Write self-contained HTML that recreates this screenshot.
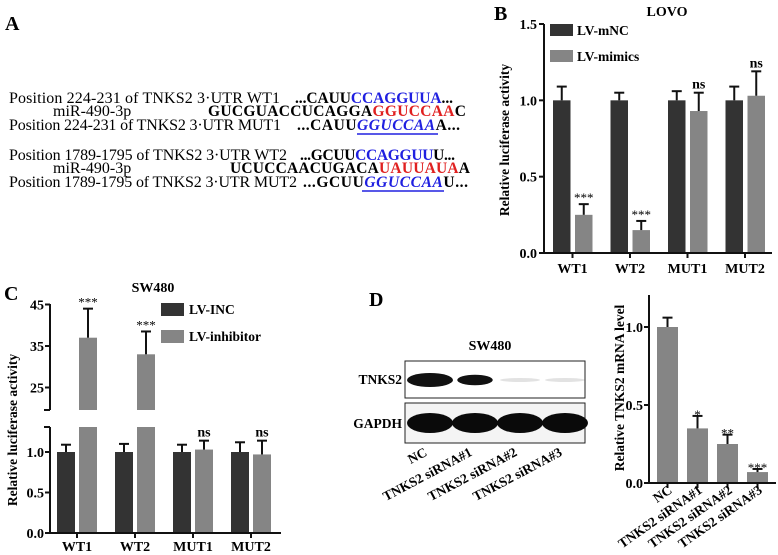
<!DOCTYPE html>
<html><head><meta charset="utf-8"><style>
body{margin:0;background:#fff}
svg{display:block;font-family:"Liberation Serif",serif}
.b{font-weight:bold}
</style></head><body>
<svg id="fig" width="778" height="555" viewBox="0 0 778 555">
<g font-size="16">
<text x="5" y="30" font-size="20" class="b">A</text>
<text x="9" y="103" textLength="271">Position 224-231 of TNKS2 3·UTR WT1</text>
<text x="53" y="116">miR-490-3p</text>
<text x="9" y="130" textLength="272">Position 224-231 of TNKS2 3·UTR MUT1</text>
<text x="295" y="103" class="b" font-size="15.5" textLength="158">...CAUU<tspan fill="#2020e0">CCAGGUUA</tspan>...</text>
<text x="208" y="116" class="b" font-size="15.5" textLength="258">GUCGUACCUCAGGA<tspan fill="#e02020">GGUCCAA</tspan>C</text>
<text x="297" y="130" class="b" font-size="15.5" textLength="163">...CAUU<tspan fill="#2020e0" font-style="italic">GGUCCAA</tspan>A...</text>
<line x1="357" y1="134" x2="438" y2="134" stroke="#2020e0" stroke-width="1.5"/>
<text x="9" y="160" textLength="278">Position 1789-1795 of TNKS2 3·UTR WT2</text>
<text x="53" y="173">miR-490-3p</text>
<text x="9" y="187" textLength="288">Position 1789-1795 of TNKS2 3·UTR MUT2</text>
<text x="300" y="160" class="b" font-size="15.5" textLength="155">...GCUU<tspan fill="#2020e0">CCAGGUU</tspan>U...</text>
<text x="230" y="173" class="b" font-size="15.5" textLength="240">UCUCCAACUGACA<tspan fill="#e02020">UAUUAUA</tspan>A</text>
<text x="303" y="187" class="b" font-size="15.5" textLength="165">...GCUU<tspan fill="#2020e0" font-style="italic">GGUCCAA</tspan>U...</text>
<line x1="362" y1="191" x2="444" y2="191" stroke="#2020e0" stroke-width="1.5"/>
</g>
<g id="pb"></g>
<g id="pc"></g>
<g id="pd"></g>
</svg>
<script>
const NS='http://www.w3.org/2000/svg';
const DARK='#333333', GRAY='#858585';
// Panel B data
const bCats=['WT1','WT2','MUT1','MUT2'];
const bNC=[1,1,1,1];
const bNCerr=[0.09,0.05,0.06,0.09];
const bMim=[0.25,0.15,0.93,1.03];
const bMimErr=[0.07,0.06,0.12,0.16];
const bSig=['***','***','ns','ns'];
const bTicks=[0,0.5,1.0,1.5];
// Panel C data
const cCats=['WT1','WT2','MUT1','MUT2'];
const cINC=[1,1,1,1];
const cINCerr=[0.09,0.1,0.09,0.12];
const cInh=[37,33,1.03,0.97];
const cInhErr=[7,5.5,0.11,0.17];
const cSig=['***','***','ns','ns'];
const cTicksLow=[0,0.5,1.0];
const cTicksHigh=[25,35,45];
// Panel D data
const dCats=['NC','TNKS2 siRNA#1','TNKS2 siRNA#2','TNKS2 siRNA#3'];
const dVals=[1.0,0.35,0.25,0.07];
const dErr=[0.06,0.08,0.06,0.02];
const dSig=['','*','**','***'];
const dTicks=[0,0.5,1.0];
const dBand1=[1,0.75,0.08,0.08];
const dBand2=[1,1,1,1];

function el(tag,attrs,parent,txt){const e=document.createElementNS(NS,tag);for(const k in attrs)e.setAttribute(k,attrs[k]);if(txt!==undefined)e.textContent=txt;parent.appendChild(e);return e;}
function errbar(g,x,y1,y2){
  const l=el('line',{x1:x,y1:y1,x2:x,y2:y2,stroke:'#111','stroke-width':2},g);
  
  
  el('line',{x1:x-5,y1:y2,x2:x+5,y2:y2,stroke:'#111','stroke-width':2},g);
}
function txt(g,x,y,s,size,anchor,extra){const t=el('text',Object.assign({x:x,y:y,'font-size':size,'font-weight':'bold','text-anchor':anchor||'middle'},extra||{}),g,s);return t;}

// ---- Panel B ----
(function(){
const g=document.getElementById('pb');
const X0=544,X1=772,Y0=253,Y1=24;
const y=v=>Y0-(v/1.5)*(Y0-Y1);
const gx=i=>553+i*57.5;
txt(g,494,20,'B',20,'start');
txt(g,667,16,'LOVO',14);
const yl=txt(g,0,0,'Relative luciferase activity',13.5,'middle',{transform:'translate(509,140) rotate(-90)'});


bCats.forEach((c,i)=>{
  const x=gx(i);
  const r1=el('rect',{x:x,y:y(bNC[i]),width:17.5,height:Y0-y(bNC[i]),fill:DARK},g);
  
  
  errbar(g,x+8.75,y(bNC[i]),y(bNC[i]+bNCerr[i]));
  const r2=el('rect',{x:x+22,y:y(bMim[i]),width:17.5,height:Y0-y(bMim[i]),fill:GRAY},g);
  
  
  errbar(g,x+30.75,y(bMim[i]),y(bMim[i]+bMimErr[i]));
  const ss=bSig[i]==='ns';
  txt(g,x+30.75,y(bMim[i]+bMimErr[i])-(ss?4:2),bSig[i],ss?14:13,'middle',ss?{}:{'font-weight':'normal'});
  const lb=txt(g,x+19.5,273,c,14);
  
  
});
el('line',{x1:X0,y1:Y1,x2:X0,y2:Y0+1,stroke:'#111','stroke-width':2},g);
el('line',{x1:X0-1,y1:Y0,x2:X1,y2:Y0,stroke:'#111','stroke-width':2},g);
bTicks.forEach(t=>{el('line',{x1:X0-5,y1:y(t),x2:X0,y2:y(t),stroke:'#111','stroke-width':2},g);txt(g,X0-7,y(t)+5,t.toFixed(1),14,'end');});
bCats.forEach((c,i)=>el('line',{x1:gx(i)+19.5,y1:Y0,x2:gx(i)+19.5,y2:Y0+5,stroke:'#111','stroke-width':2},g));
el('rect',{x:550,y:24,width:23,height:12,fill:DARK},g);
txt(g,577,35,'LV-mNC',13.5,'start');
el('rect',{x:550,y:50,width:23,height:12,fill:GRAY},g);
txt(g,577,61,'LV-mimics',13.5,'start');
})();

// ---- Panel C ----
(function(){
const g=document.getElementById('pc');
const X0=50,X1=281;
const yH=v=>346-(v-35)*4.15;
const yL=v=>533-v*81;
const HB=410,LT=427;
const gx=i=>57+i*58;
txt(g,4,300,'C',20,'start');
txt(g,153,292,'SW480',14);
const yl=txt(g,0,0,'Relative luciferase activity',13.5,'middle',{transform:'translate(17,430) rotate(-90)'});


cCats.forEach((c,i)=>{
  const x=gx(i);
  const r1=el('rect',{x:x,y:yL(cINC[i]),width:18,height:533-yL(cINC[i]),fill:DARK},g);
  
  
  errbar(g,x+9,yL(cINC[i]),yL(cINC[i]+cINCerr[i]));
  const v=cInh[i],xi=x+22;
  if(v>1.3){
    const r2=el('rect',{x:xi,y:LT,width:18,height:533-LT,fill:GRAY},g);
    
    
    const r3=el('rect',{x:xi,y:yH(v),width:18,height:HB-yH(v),fill:GRAY},g);
    
    
    errbar(g,xi+9,yH(v),yH(v+cInhErr[i]));
    txt(g,xi+9,yH(v+cInhErr[i])-2,cSig[i],13,'middle',{'font-weight':'normal'});
  } else {
    const r2=el('rect',{x:xi,y:yL(v),width:18,height:533-yL(v),fill:GRAY},g);
    
    
    errbar(g,xi+9,yL(v),yL(v+cInhErr[i]));
    txt(g,xi+9,yL(v+cInhErr[i])-4,cSig[i],14);
  }
  const lb=txt(g,x+20,551,c,14);
  
  
  el('line',{x1:x+20,y1:533,x2:x+20,y2:538,stroke:'#111','stroke-width':2},g);
});
el('line',{x1:X0,y1:304,x2:X0,y2:HB,stroke:'#111','stroke-width':2},g);
el('line',{x1:X0-6,y1:HB,x2:X0,y2:HB,stroke:'#111','stroke-width':2},g);
el('line',{x1:X0,y1:LT,x2:X0,y2:534,stroke:'#111','stroke-width':2},g);
el('line',{x1:X0-6,y1:LT,x2:X0,y2:LT,stroke:'#111','stroke-width':2},g);
el('line',{x1:X0-1,y1:533,x2:X1,y2:533,stroke:'#111','stroke-width':2},g);
cTicksHigh.forEach(t=>{el('line',{x1:X0-5,y1:yH(t),x2:X0,y2:yH(t),stroke:'#111','stroke-width':2},g);txt(g,X0-6,yH(t)+5,String(t),14,'end');});
cTicksLow.forEach(t=>{el('line',{x1:X0-5,y1:yL(t),x2:X0,y2:yL(t),stroke:'#111','stroke-width':2},g);txt(g,X0-6,yL(t)+5,t.toFixed(1),14,'end');});
el('rect',{x:161,y:303,width:23,height:13,fill:DARK},g);
txt(g,189,314,'LV-INC',13.5,'start');
el('rect',{x:161,y:330,width:23,height:13,fill:GRAY},g);
txt(g,189,341,'LV-inhibitor',13.5,'start');
})();

// ---- Panel D ----
(function(){
const g=document.getElementById('pd');
txt(g,369,306,'D',20,'start');
txt(g,490,350,'SW480',14);
el('rect',{x:405,y:361,width:180,height:37,fill:'#fff',stroke:'#222','stroke-width':1},g);
el('rect',{x:405,y:403,width:180,height:40,fill:'#f4f4f4',stroke:'#222','stroke-width':1},g);
txt(g,402,384,'TNKS2',13.5,'end');
txt(g,402,428,'GAPDH',13.5,'end');
const lane=i=>430+i*45;
dBand1.forEach((b,i)=>{
  const e=el('ellipse',{cx:lane(i),cy:380,rx:b>0.5?21*b+2:20,ry:b>0.5?7*b:2,fill:'#111','fill-opacity':b>0.5?1:0.12},g);
  
  
});
dBand2.forEach((b,i)=>{
  const e=el('ellipse',{cx:lane(i),cy:423,rx:23*b,ry:10*b,fill:'#0a0a0a'},g);
  
  
});
dCats.forEach((c,i)=>{
  const t=txt(g,0,0,c,13.5,'end',{transform:`translate(${lane(i)-2},455) rotate(-28)`});
  
  
});
const X0=649,X1=776,Y0=483;
const y=v=>Y0-v*156;
const yl=txt(g,0,0,'Relative TNKS2 mRNA level',13.5,'middle',{transform:'translate(624,388) rotate(-90)'});


const bx=i=>657+i*30;
dCats.forEach((c,i)=>{
  const r=el('rect',{x:bx(i),y:y(dVals[i]),width:21,height:Y0-y(dVals[i]),fill:GRAY},g);
  
  
  errbar(g,bx(i)+10.5,y(dVals[i]),y(dVals[i]+dErr[i]));
  if(dSig[i])txt(g,bx(i)+10.5,y(dVals[i]+dErr[i])+3,dSig[i],13,'middle',{'font-weight':'normal'});
  el('line',{x1:bx(i)+10.5,y1:Y0,x2:bx(i)+10.5,y2:Y0+5,stroke:'#111','stroke-width':2},g);
  const t=txt(g,0,0,c,13.5,'end',{transform:`translate(${bx(i)+16},492) rotate(-35)`});
  
  
});
el('line',{x1:X0,y1:295,x2:X0,y2:Y0+1,stroke:'#111','stroke-width':2},g);
el('line',{x1:X0-1,y1:Y0,x2:X1,y2:Y0,stroke:'#111','stroke-width':2},g);
dTicks.forEach(t=>{el('line',{x1:X0-5,y1:y(t),x2:X0,y2:y(t),stroke:'#111','stroke-width':2},g);txt(g,X0-6,y(t)+5,t.toFixed(1),14,'end');});
})();
</script>
</body></html>
